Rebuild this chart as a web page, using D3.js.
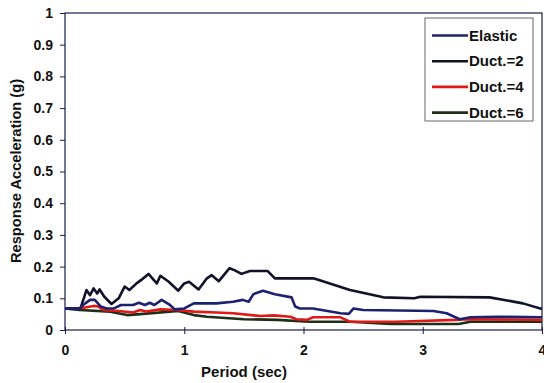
<!DOCTYPE html>
<html>
<head>
<meta charset="utf-8">
<script src="https://cdn.jsdelivr.net/npm/d3@7"></script>
<style>
  body { margin: 0; background: #fff; }
  svg { display: block; font-family: "Liberation Sans", Arial, sans-serif; font-weight: bold; }
</style>
</head>
<body>
<div id="chart"></div>
<script>
// period (sec) / acceleration (g) pairs
const elasticT = [0, 0.12, 0.17, 0.21, 0.25, 0.3, 0.35, 0.41, 0.47, 0.57, 0.62, 0.67, 0.71, 0.75, 0.81, 0.88, 0.92, 1.0, 1.08, 1.27, 1.41, 1.49, 1.54, 1.58, 1.66, 1.76, 1.9, 1.93, 1.97, 2.08, 2.31, 2.38, 2.42, 2.5, 3.09, 3.2, 3.31, 3.4, 3.62, 4.0];
const elasticA = [0.068, 0.068, 0.084, 0.095, 0.095, 0.074, 0.068, 0.068, 0.079, 0.079, 0.086, 0.079, 0.086, 0.079, 0.095, 0.079, 0.065, 0.068, 0.084, 0.084, 0.089, 0.095, 0.089, 0.113, 0.124, 0.113, 0.103, 0.074, 0.068, 0.068, 0.053, 0.051, 0.068, 0.063, 0.06, 0.053, 0.034, 0.04, 0.042, 0.04];

const duct2T = [0, 0.13, 0.18, 0.21, 0.24, 0.27, 0.29, 0.33, 0.39, 0.45, 0.5, 0.54, 0.6, 0.64, 0.7, 0.74, 0.77, 0.8, 0.87, 0.95, 1.0, 1.04, 1.12, 1.19, 1.23, 1.29, 1.38, 1.42, 1.48, 1.55, 1.7, 1.76, 2.08, 2.11, 2.39, 2.67, 2.93, 2.98, 3.56, 3.84, 4.0];
const duct2A = [0.068, 0.068, 0.126, 0.11, 0.131, 0.115, 0.128, 0.105, 0.082, 0.1, 0.137, 0.126, 0.147, 0.158, 0.177, 0.16, 0.147, 0.171, 0.152, 0.124, 0.147, 0.152, 0.128, 0.163, 0.173, 0.154, 0.195, 0.189, 0.177, 0.186, 0.186, 0.163, 0.163, 0.16, 0.126, 0.103, 0.1, 0.105, 0.103, 0.084, 0.066];

const duct4T = [0, 0.12, 0.24, 0.28, 0.32, 0.45, 0.57, 0.63, 0.68, 0.8, 0.94, 1.08, 1.27, 1.41, 1.64, 1.75, 1.89, 1.94, 2.03, 2.08, 2.31, 2.39, 2.78, 3.28, 3.37, 4.0];
const duct4A = [0.068, 0.068, 0.076, 0.074, 0.063, 0.06, 0.055, 0.063, 0.058, 0.065, 0.063, 0.058, 0.055, 0.053, 0.044, 0.046, 0.042, 0.034, 0.032, 0.04, 0.04, 0.026, 0.026, 0.032, 0.034, 0.032];

const duct6T = [0, 0.12, 0.38, 0.52, 0.63, 0.95, 1.08, 1.19, 1.5, 1.78, 2.05, 2.39, 2.73, 3.3, 3.4, 4.0];
const duct6A = [0.068, 0.063, 0.058, 0.047, 0.05, 0.06, 0.047, 0.042, 0.034, 0.032, 0.026, 0.026, 0.019, 0.019, 0.026, 0.026];

const seriesNames = ["Elastic", "Duct.=2", "Duct.=4", "Duct.=6"];
const seriesColors = ["#1c2270", "#10122a", "#e01818", "#1c3018"];
const xTicks = [0, 1, 2, 3, 4];
const yTicks = [0, 0.1, 0.2, 0.3, 0.4, 0.5, 0.6, 0.7, 0.8, 0.9, 1];

const width = 544, height = 383;
const margin = { top: 13, right: 2, bottom: 53, left: 65 };

const series = [
  { name: seriesNames[0], color: seriesColors[0], values: elasticT.map((t, i) => [t, elasticA[i]]) },
  { name: seriesNames[1], color: seriesColors[1], values: duct2T.map((t, i) => [t, duct2A[i]]) },
  { name: seriesNames[2], color: seriesColors[2], values: duct4T.map((t, i) => [t, duct4A[i]]) },
  { name: seriesNames[3], color: seriesColors[3], values: duct6T.map((t, i) => [t, duct6A[i]]) }
];

const svg = d3.select("#chart")
  .append("svg")
  .attr("width", width)
  .attr("height", height);

const x = d3.scaleLinear()
  .domain([0, 4])
  .range([margin.left, width - margin.right]);

const y = d3.scaleLinear()
  .domain([0, 1])
  .range([height - margin.bottom, margin.top]);

// plot frame
svg.append("rect")
  .attr("x", x(0))
  .attr("y", y(1))
  .attr("width", x(4) - x(0))
  .attr("height", y(0) - y(1))
  .attr("fill", "none")
  .attr("stroke", "#1a1d4a")
  .attr("stroke-width", 1.2);

const yAxis = d3.axisLeft(y)
  .tickValues(yTicks)
  .tickSize(5)
  .tickFormat(d => d);

svg.append("g")
  .attr("class", "y-axis")
  .attr("transform", `translate(${x(0)},0)`)
  .call(yAxis)
  .call(g => g.select(".domain").remove())
  .call(g => g.selectAll("line").attr("stroke", "#1a1d4a"))
  .call(g => g.selectAll("text")
    .attr("x", -12)
    .attr("font-size", "14px")
    .attr("font-family", "Liberation Sans, Arial, sans-serif")
    .attr("font-weight", "bold")
    .attr("fill", "#111"));

const xAxis = d3.axisBottom(x)
  .tickValues(xTicks)
  .tickSizeInner(4)
  .tickSizeOuter(0)
  .tickFormat(d => d);

svg.append("g")
  .attr("class", "x-axis")
  .attr("transform", `translate(0,${y(0)})`)
  .call(xAxis)
  .call(g => g.select(".domain").remove())
  .call(g => g.selectAll("line").attr("y1", -3).attr("stroke", "#1a1d4a"))
  .call(g => g.selectAll("text")
    .attr("y", 15)
    .attr("font-size", "14px")
    .attr("font-family", "Liberation Sans, Arial, sans-serif")
    .attr("font-weight", "bold")
    .attr("fill", "#111"));

// lines, drawn back to front
const line = d3.line()
  .x(d => x(d[0]))
  .y(d => y(d[1]));

svg.append("g")
  .selectAll("path")
  .data(series.slice().reverse())
  .join("path")
  .attr("d", d => line(d.values))
  .attr("fill", "none")
  .attr("stroke", d => d.color)
  .attr("stroke-width", 2.6)
  .attr("stroke-linejoin", "round");

// axis titles
svg.append("text")
  .attr("x", 244)
  .attr("y", 377)
  .attr("text-anchor", "middle")
  .attr("font-size", "15px")
  .attr("fill", "#111")
  .text("Period (sec)");

svg.append("text")
  .attr("transform", "translate(21,171) rotate(-90)")
  .attr("text-anchor", "middle")
  .attr("font-size", "14px")
  .attr("textLength", 184)
  .attr("lengthAdjust", "spacingAndGlyphs")
  .attr("fill", "#111")
  .text("Response Acceleration (g)");

// legend
const legend = svg.append("g")
  .attr("transform", "translate(425,18)");

legend.append("rect")
  .attr("width", 108)
  .attr("height", 103)
  .attr("fill", "#fff")
  .attr("stroke", "#666")
  .attr("stroke-width", 1);

const items = legend.selectAll("g.item")
  .data(series)
  .join("g")
  .attr("class", "item")
  .attr("transform", (d, i) => `translate(0,${17.5 + i * 25.7})`);

items.append("line")
  .attr("x1", 7)
  .attr("x2", 43)
  .attr("stroke", d => d.color)
  .attr("stroke-width", 2.6);

items.append("text")
  .attr("x", 44)
  .attr("dy", "0.35em")
  .attr("font-size", "15px")
  .attr("fill", "#111")
  .text(d => d.name);
</script>
</body>
</html>
